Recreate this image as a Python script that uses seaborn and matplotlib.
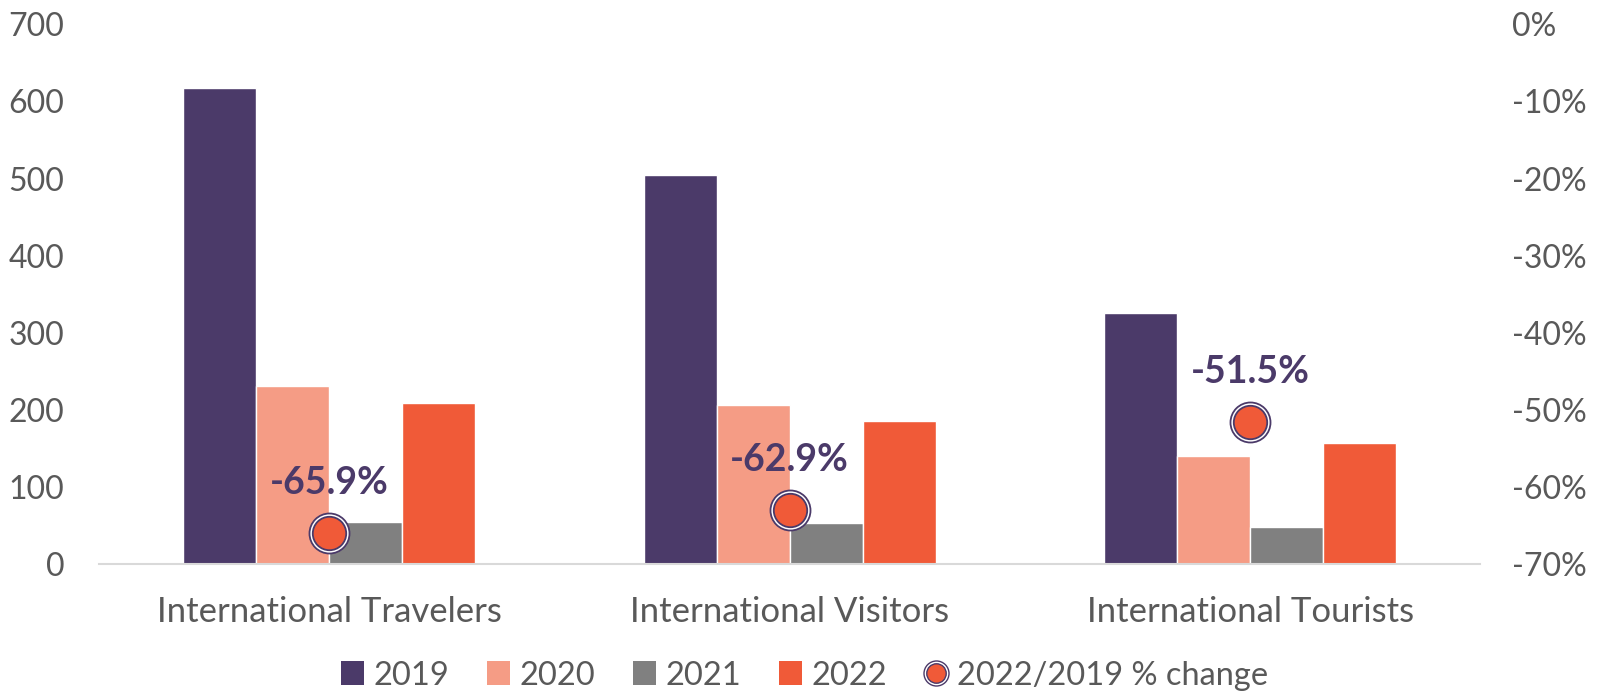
import numpy as np
import pandas as pd
import matplotlib
matplotlib.use("Agg")
import matplotlib.pyplot as plt
from matplotlib.lines import Line2D
from matplotlib.patches import Patch
from matplotlib.legend_handler import HandlerTuple
import seaborn as sns

categories = ["International Travelers", "International Visitors", "International Tourists"]
years = ["2019", "2020", "2021", "2022"]
v2019 = [617, 505, 326]
v2020 = [231, 207, 141]
v2021 = [55, 53, 49]
v2022 = [209, 186, 157]
pct_change = [-65.9, -62.9, -51.5]

colors = ["#4B3A69", "#F59C85", "#808080", "#F05A38"]
purple = "#4B3A69"
text_gray = "#595959"

sns.set_style("white")
plt.rcParams["font.family"] = ["Lato", "DejaVu Sans"]

rows = []
for yr, vals in zip(years, [v2019, v2020, v2021, v2022]):
    for cat, v in zip(categories, vals):
        rows.append({"category": cat, "year": yr, "value": v})
df = pd.DataFrame(rows)

fig = plt.figure(figsize=(15.97, 6.95), dpi=100)
ax = fig.add_axes([0.062, 0.188, 0.865, 0.777])

sns.barplot(data=df, x="category", y="value", hue="year", palette=colors,
            width=0.634, saturation=1, ax=ax, legend=False)
ax.set_xlim(-0.5, 2.5)
ax.set_ylim(0, 700)
ax.set_yticks(range(0, 701, 100))
ax.set_xlabel("")
ax.set_ylabel("")
for s in ["top", "right", "left"]:
    ax.spines[s].set_visible(False)
ax.spines["bottom"].set_color("#d9d9d9")
ax.spines["bottom"].set_linewidth(1.5)
ax.tick_params(axis="both", length=0, labelcolor=text_gray)
ax.tick_params(axis="x", pad=23, labelsize=25)
ax.tick_params(axis="y", pad=25, labelsize=23)

ax2 = ax.twinx()
ax2.set_ylim(-70, 0)
ax2.set_yticks(range(-70, 1, 10))
ax2.set_yticklabels([f"{t}%" for t in range(-70, 1, 10)])
for s in ax2.spines.values():
    s.set_visible(False)
ax2.tick_params(axis="y", length=0, labelsize=23, labelcolor=text_gray, pad=23)

xs = np.arange(len(categories))
ax2.scatter(xs, pct_change, s=830, facecolor="white", edgecolor=purple, linewidth=1.3, zorder=3)
ax2.scatter(xs, pct_change, s=580, facecolor="#F05A38", edgecolor=purple, linewidth=1.3, zorder=4)
for x, p in zip(xs, pct_change):
    ax2.annotate(f"{p:.1f}%", (x, p), xytext=(0, 36), textcoords="offset points",
                 ha="center", va="center", fontsize=27, fontweight="bold", color=purple)

handles = [Patch(facecolor=c, edgecolor="none") for c in colors]
marker_h = (Line2D([], [], marker="o", linestyle="none", markersize=18, markerfacecolor="white",
                   markeredgecolor=purple, markeredgewidth=1.0),
            Line2D([], [], marker="o", linestyle="none", markersize=14, markerfacecolor="#F05A38",
                   markeredgecolor=purple, markeredgewidth=1.0))
handles.append(marker_h)
labels = years + ["2022/2019 % change"]
fig.legend(handles, labels, loc="center", bbox_to_anchor=(0.504, 0.028), ncol=5, frameon=False,
           fontsize=23.5, labelcolor=text_gray, handlelength=0.7, handleheight=0.75,
           handletextpad=0.3, columnspacing=1.15,
           handler_map={tuple: HandlerTuple(ndivide=1, pad=0)})

fig.savefig("out.png", dpi=100)
